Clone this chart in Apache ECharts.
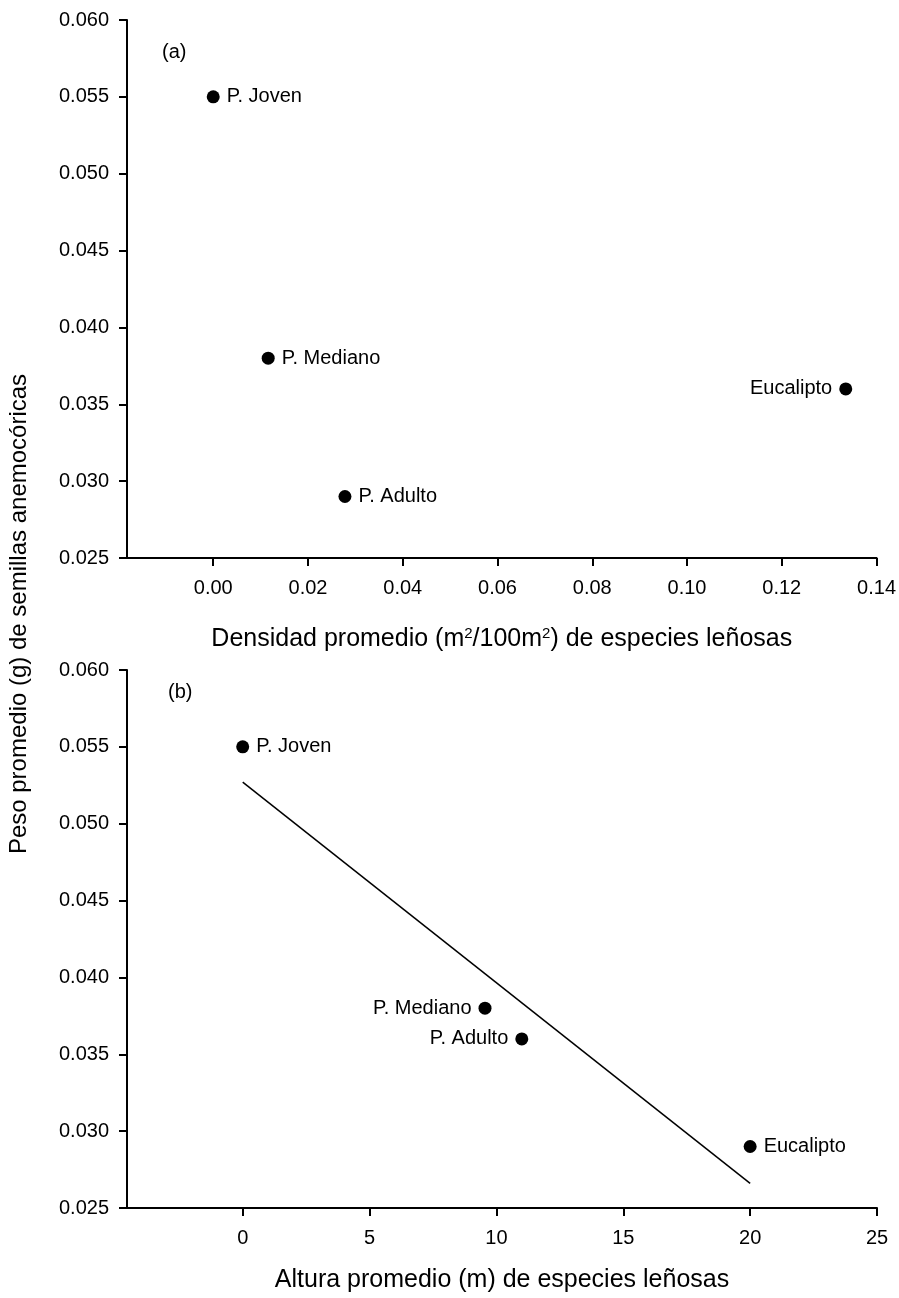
<!DOCTYPE html>
<html>
<head>
<meta charset="utf-8">
<script src="https://cdn.jsdelivr.net/npm/echarts@6/dist/echarts.min.js"></script>
<style>html,body{margin:0;padding:0;background:#fff}#c{width:899px;height:1298px}</style>
</head>
<body>
<div id="c"></div>
<script>
// ---- data ----
const siteNames = ['P. Joven', 'P. Mediano', 'P. Adulto', 'Eucalipto'];
const densA = [0.000, 0.0116, 0.0278, 0.1335];
const pesoA = [0.055, 0.038, 0.029, 0.036];
const siteNamesB = ['P. Joven', 'P. Mediano', 'P. Adulto', 'Eucalipto'];
const alturaB = [0, 9.55, 11.0, 20.0];
const pesoB = [0.055, 0.038, 0.036, 0.029];
const fitX = [0, 20];
const fitY = [0.0527, 0.0266];
const xTicksA = [0, 0.02, 0.04, 0.06, 0.08, 0.10, 0.12, 0.14];
const xTicksB = [0, 5, 10, 15, 20, 25];

// ---- label side (style, not data) ----
const sideA = ['right', 'right', 'right', 'left'];
const sideB = ['right', 'left', 'left', 'right'];

const FONT = "'Liberation Sans', Arial, sans-serif";
const axisLine = { show: true, onZero: false, lineStyle: { color: '#000', width: 2 } };
const axisTick = { show: true, inside: false, length: 8, lineStyle: { color: '#000', width: 2 } };

function yAxis(gi) {
  return {
    type: 'value', gridIndex: gi, min: 0.025, max: 0.060, interval: 0.005,
    axisLine, axisTick, splitLine: { show: false },
    axisLabel: { color: '#000', fontSize: 20, fontFamily: FONT, margin: 18,
      formatter: v => v.toFixed(3) }
  };
}

const chart = echarts.init(document.getElementById('c'), null, { renderer: 'canvas' });
chart.setOption({
  animation: false,
  backgroundColor: '#fff',
  title: [
    { text: '(a)', left: 157, top: 37, textStyle: { fontSize: 20, fontWeight: 'normal', fontFamily: FONT, color: '#000' } },
    { text: '(b)', left: 163, top: 677, textStyle: { fontSize: 20, fontWeight: 'normal', fontFamily: FONT, color: '#000' } }
  ],
  grid: [
    { left: 127, top: 20, width: 750, height: 538 },
    { left: 127, top: 670, width: 750, height: 538 }
  ],
  xAxis: [
    {
      type: 'value', gridIndex: 0, min: -0.0182, max: 0.14,
      axisLine, splitLine: { show: false },
      axisTick: Object.assign({}, axisTick, { customValues: xTicksA }),
      axisLabel: { color: '#000', fontSize: 20, fontFamily: FONT, margin: 20, customValues: xTicksA,
        formatter: v => v.toFixed(2) },
      name: 'Densidad promedio (m{sup|2}/100m{sup|2}) de especies leñosas',
      nameLocation: 'middle', nameGap: 68,
      nameTextStyle: { color: '#000', fontSize: 25, fontFamily: FONT,
        rich: { sup: { fontSize: 15, fontFamily: FONT, color: '#000', verticalAlign: 'top', padding: [0, 0, 12, 0] } } }
    },
    {
      type: 'value', gridIndex: 1, min: -4.56, max: 25,
      axisLine, splitLine: { show: false },
      axisTick: Object.assign({}, axisTick, { customValues: xTicksB }),
      axisLabel: { color: '#000', fontSize: 20, fontFamily: FONT, margin: 20, customValues: xTicksB,
        formatter: v => String(Math.round(v)) },
      name: 'Altura promedio (m) de especies leñosas',
      nameLocation: 'middle', nameGap: 60,
      nameTextStyle: { color: '#000', fontSize: 25, fontFamily: FONT }
    }
  ],
  yAxis: [yAxis(0), yAxis(1)],
  graphic: [
    { type: 'text', x: 19, y: 614, rotation: Math.PI / 2,
      style: { text: 'Peso promedio (g) de semillas anemocóricas', fill: '#000', font: "24px 'Liberation Sans', Arial, sans-serif",
        textAlign: 'center', textVerticalAlign: 'middle' } }
  ],
  series: [
    {
      type: 'scatter', xAxisIndex: 0, yAxisIndex: 0, symbolSize: 13,
      itemStyle: { color: '#000', opacity: 1 },
      data: densA.map((x, i) => ({ value: [x, pesoA[i]], name: siteNames[i],
        label: { show: true, position: sideA[i], distance: 7, formatter: siteNames[i] } })),
      label: { color: '#000', fontSize: 20, fontFamily: FONT }
    },
    {
      type: 'scatter', xAxisIndex: 1, yAxisIndex: 1, symbolSize: 13,
      itemStyle: { color: '#000', opacity: 1 },
      data: alturaB.map((x, i) => ({ value: [x, pesoB[i]], name: siteNamesB[i],
        label: { show: true, position: sideB[i], distance: 7, formatter: siteNamesB[i] } })),
      label: { color: '#000', fontSize: 20, fontFamily: FONT }
    },
    {
      type: 'line', xAxisIndex: 1, yAxisIndex: 1, symbol: 'none',
      lineStyle: { color: '#000', width: 1.5 },
      data: fitX.map((x, i) => [x, fitY[i]])
    }
  ]
});
</script>
</body>
</html>
